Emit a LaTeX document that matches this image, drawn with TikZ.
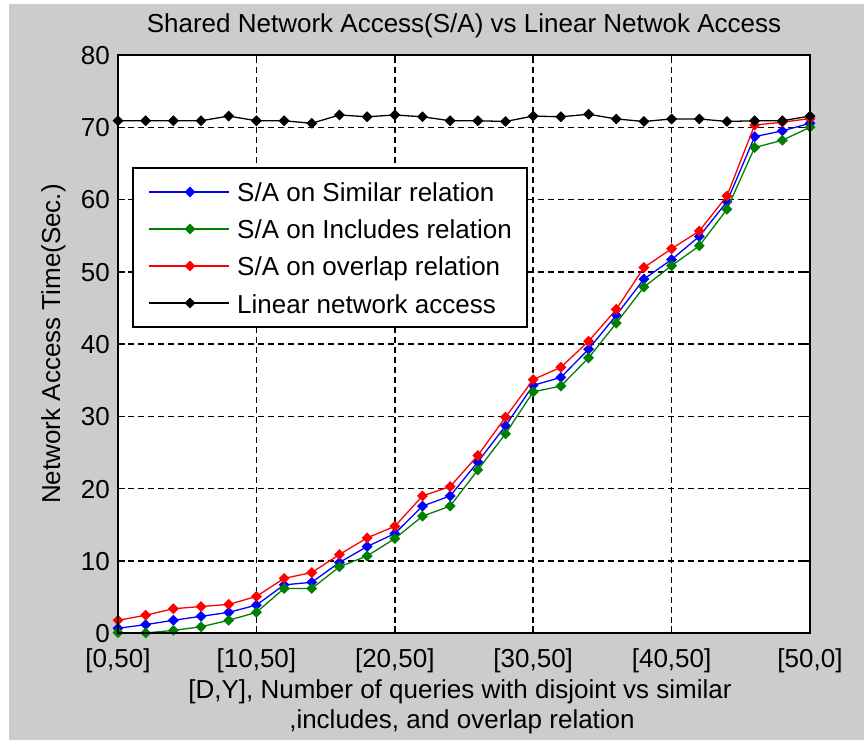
\documentclass[tikz,border=0pt]{standalone}
\usepackage{fontspec}
\setmainfont{Liberation Sans}
\usetikzlibrary{plotmarks}
\begin{document}
\begin{tikzpicture}[x=1pt,y=1pt,
  txt/.style={font=\fontsize{26pt}{30pt}\selectfont, inner sep=0pt, text=black},
  gridline/.style={dash pattern=on 6pt off 4pt, line width=1.5pt},
  tickline/.style={line width=1.5pt},
  series/.style={line width=1.3pt, mark=square*, mark size=3.2pt, mark options={rotate=45, solid}},
]
\definecolor{figgray}{RGB}{204,204,204}
\definecolor{mgreen}{RGB}{0,128,0}
\useasboundingbox (0,0) rectangle (864,740);
% figure background
\fill[white] (0,0) rectangle (864,740);
\fill[figgray] (9,0) rectangle (864,736);
% axes area
\fill[white] (118,106.7) rectangle (810,685);
\begin{scope}[shift={(118,106.7)}, x=13.84pt, y=7.229pt]
  % grid
  \foreach \v in {10,20,...,70} \draw[gridline] (0,\v) -- (50,\v);
  \foreach \u in {10,20,...,40} \draw[gridline] (\u,0) -- (\u,80);
  % ticks
  \foreach \u in {0,10,...,50} {
    \draw[tickline] (\u,0) -- ++(0pt,7pt);
    \draw[tickline] (\u,80) -- ++(0pt,-7pt);
  }
  \foreach \v in {0,10,...,80} {
    \draw[tickline] (0,\v) -- ++(7pt,0pt);
    \draw[tickline] (50,\v) -- ++(-7pt,0pt);
  }
  % tick labels
  \foreach \v in {0,10,...,80}
    \node[txt, anchor=base east, xshift=-8pt, yshift=-9.3pt] (ytick\v) at (0,\v) {\v};
  \foreach \u/\t in {0/{[0,50]},10/{[10,50]},20/{[20,50]},30/{[30,50]},40/{[40,50]},50/{[50,0]}}
    \node[txt, anchor=base, yshift=-33.7pt] (xtick\u) at (\u,0) {\t};
  % data series
  \draw[series, blue] plot coordinates {(0,0.7)(2,1.2)(4,1.8)(6,2.35)(8,2.9)(10,3.9)(12,6.7)(14,7.06)(16,9.8)(18,12.0)(20,13.8)(22,17.6)(24,19.0)(26,23.7)(28,28.7)(30,34.3)(32,35.4)(34,39.3)(36,44.0)(38,49.0)(40,51.7)(42,54.9)(44,59.7)(46,68.7)(48,69.5)(50,70.55)};
  \draw[series, mgreen] plot coordinates {(0,0.1)(2,0.05)(4,0.4)(6,0.9)(8,1.8)(10,2.9)(12,6.2)(14,6.2)(16,9.2)(18,10.7)(20,13.1)(22,16.2)(24,17.6)(26,22.6)(28,27.6)(30,33.4)(32,34.2)(34,38.1)(36,42.9)(38,47.9)(40,50.85)(42,53.6)(44,58.65)(46,67.2)(48,68.2)(50,70.0)};
  \draw[series, red] plot coordinates {(0,1.8)(2,2.5)(4,3.4)(6,3.7)(8,4.0)(10,5.1)(12,7.6)(14,8.4)(16,10.9)(18,13.2)(20,14.8)(22,19.0)(24,20.3)(26,24.6)(28,29.9)(30,35.1)(32,36.8)(34,40.4)(36,44.8)(38,50.6)(40,53.2)(42,55.65)(44,60.5)(46,70.3)(48,70.7)(50,71.2)};
  \draw[series, black] plot coordinates {(0,70.9)(2,70.9)(4,70.9)(6,70.9)(8,71.55)(10,70.9)(12,70.9)(14,70.55)(16,71.7)(18,71.45)(20,71.7)(22,71.45)(24,70.9)(26,70.9)(28,70.8)(30,71.55)(32,71.45)(34,71.8)(36,71.15)(38,70.8)(40,71.15)(42,71.15)(44,70.8)(46,70.9)(48,70.9)(50,71.55)};
  % axes box
  \draw[line width=2pt] (0,0) rectangle (50,80);
\end{scope}
% legend
\draw[line width=1.5pt, fill=white] (133,413) rectangle (527,572);
\foreach \c/\yy/\t in {blue/548/{S/A on Similar relation},mgreen/511/{S/A on Includes relation},red/474/{S/A on overlap relation},black/437/{Linear network access}} {
  \draw[line width=1.3pt, \c] (149,\yy) -- (229,\yy);
  \path[series, \c] plot coordinates {(190,\yy)};
  \node[txt, anchor=base west] (leg\yy) at (237,\yy-10) {\t};
}
% title and axis labels
\node[txt, anchor=base] (title) at (464,707) {Shared Network Access(S/A) vs Linear Netwok Access};
\node[txt, anchor=base] (xlab1) at (460,42) {[D,Y], Number of queries with disjoint vs similar};
\node[txt, anchor=base] (xlab2) at (462,12) {,includes, and overlap relation};
\node[txt, anchor=base, rotate=90] (ylab) at (60,396) {Network Access Time(Sec.)};
\end{tikzpicture}
\end{document}
